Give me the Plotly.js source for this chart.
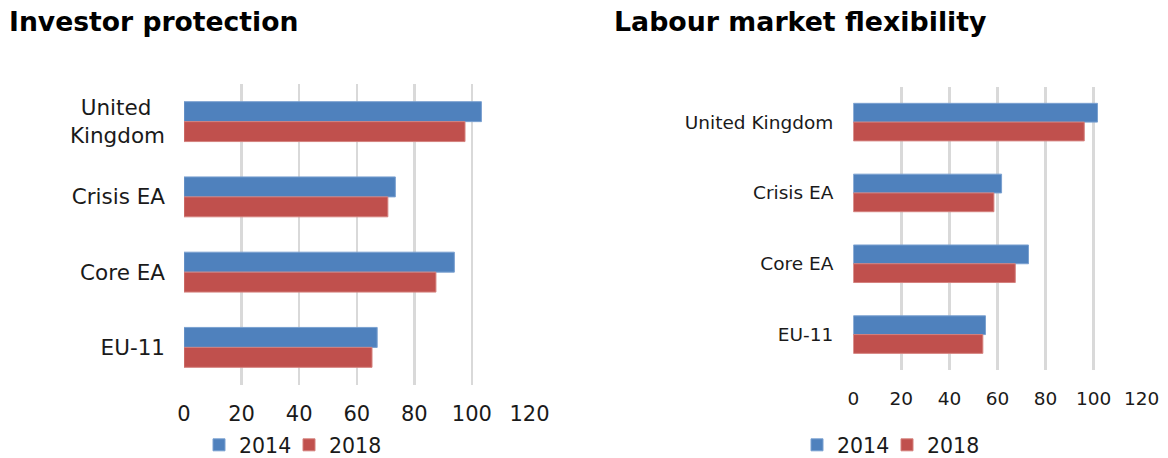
<!DOCTYPE html>
<html>
<head>
<meta charset="utf-8">
<script src="https://cdn.plot.ly/plotly-3.0.1.min.js"></script>
<style>html,body{margin:0;padding:0;background:#fff;}#chart{width:1168px;height:458px;}</style>
</head>
<body>
<div id="chart"></div>
<script>
// ---- data ----
const categories = ["United Kingdom", "Crisis EA", "Core EA", "EU-11"];
const leftTickText = ["United\u00a0\u00a0<br>Kingdom", "Crisis EA", "Core EA", "EU-11"];
const seriesNames = ["2014", "2018"];
const investor2014 = [103.3, 73.4, 93.9, 67.1];
const investor2018 = [97.6, 70.8, 87.5, 65.3];
const labour2014 = [101.6, 61.7, 72.9, 55.0];
const labour2018 = [96.1, 58.5, 67.4, 53.9];
const xTicks = [0, 20, 40, 60, 80, 100, 120];
const chartTitles = ["Investor protection", "Labour market flexibility"];

// ---- style ----
const W = 1168, H = 458;
const px = v => v / W;
const py = v => 1 - v / H;
const colors = ["#4f81bd", "#c0504d"];
const lineColors = ["#7aa0d0", "#d4807d"];
const FONT = "DejaVu Sans, Verdana, sans-serif";

function bar(name, vals, i, xa, ya, legend) {
  return {
    type: "bar", orientation: "h", name: name,
    y: categories, x: vals,
    xaxis: xa, yaxis: ya, legend: legend, showlegend: true,
    marker: {color: colors[i], line: {color: lineColors[i], width: 1}},
    hoverinfo: "x+y+name"
  };
}

const data = [
  bar(seriesNames[0], investor2014, 0, "x", "y", "legend"),
  bar(seriesNames[1], investor2018, 1, "x", "y", "legend2"),
  bar(seriesNames[0], labour2014, 0, "x2", "y2", "legend3"),
  bar(seriesNames[1], labour2018, 1, "x2", "y2", "legend4")
];

function xAxis(domain, anchor, size, standoff) {
  return {
    domain: domain, anchor: anchor, range: [0, 120], tickvals: xTicks,
    showgrid: true, gridcolor: "#d9d9d9", gridwidth: 2.5,
    zeroline: false, showline: false, ticks: "", fixedrange: true,
    tickfont: {family: FONT, size: size, color: "#1a1a1a"},
    ticklabelstandoff: standoff
  };
}
function yAxis(domain, anchor, size, standoff, ticktext) {
  const ax = {
    domain: domain, anchor: anchor, type: "category",
    categoryorder: "array", categoryarray: categories,
    autorange: "reversed", showgrid: false, zeroline: false, showline: false,
    ticks: "", fixedrange: true,
    tickfont: {family: FONT, size: size, color: "#1a1a1a"},
    ticklabelstandoff: standoff
  };
  if (ticktext) { ax.tickmode = "array"; ax.tickvals = categories; ax.ticktext = ticktext; }
  return ax;
}
function legendAt(xpx) {
  return {
    orientation: "h", x: px(xpx), xanchor: "left", y: py(445), yanchor: "middle",
    font: {family: FONT, size: 20.5, color: "#1a1a1a"}, bgcolor: "rgba(0,0,0,0)",
    itemclick: false, itemdoubleclick: false
  };
}

const layout = {
  width: W, height: H,
  margin: {l: 0, r: 0, t: 0, b: 0, autoexpand: false},
  paper_bgcolor: "#ffffff", plot_bgcolor: "#ffffff",
  barmode: "group", bargap: 0.47, bargroupgap: 0,
  font: {family: FONT, color: "#1a1a1a"},
  xaxis: xAxis([px(184), px(529.5)], "y", 21, 14),
  yaxis: yAxis([py(385), py(84)], "x", 21.5, 18, leftTickText),
  xaxis2: xAxis([px(853.3), px(1141.7)], "y2", 18.5, 15),
  yaxis2: yAxis([py(370), py(86.7)], "x2", 18.5, 19, null),
  legend: legendAt(199),
  legend2: legendAt(289),
  legend3: legendAt(797),
  legend4: legendAt(887),
  annotations: [
    {text: "<b>" + chartTitles[0] + "</b>", xref: "paper", yref: "paper",
     x: px(7), y: py(21), xanchor: "left", yanchor: "middle", showarrow: false,
     font: {family: FONT, size: 26.6, color: "#000000"}},
    {text: "<b>" + chartTitles[1] + "</b>", xref: "paper", yref: "paper",
     x: px(612), y: py(21), xanchor: "left", yanchor: "middle", showarrow: false,
     font: {family: FONT, size: 26.8, color: "#000000"}}
  ]
};

Plotly.newPlot("chart", data, layout, {displayModeBar: false, staticPlot: true});
</script>
</body>
</html>
